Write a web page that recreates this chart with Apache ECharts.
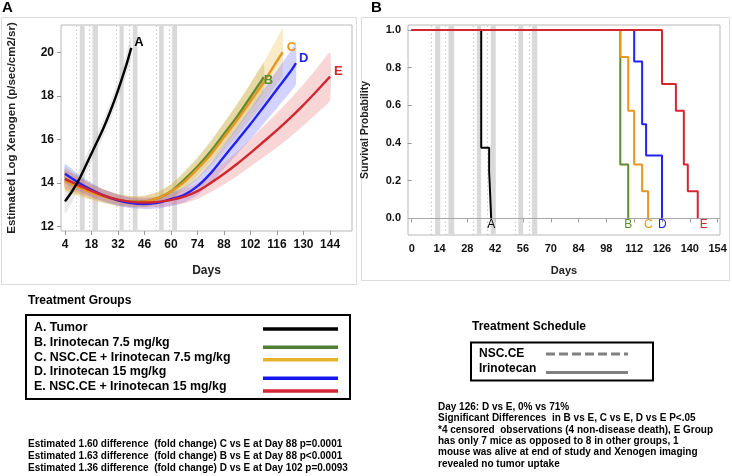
<!DOCTYPE html>
<html><head><meta charset="utf-8">
<script src="https://cdn.jsdelivr.net/npm/echarts@6/dist/echarts.min.js"></script>
<style>html,body{margin:0;padding:0;background:#fff}#c{width:732px;height:476px}</style>
</head><body><div id="c"></div>
<script>
// ---------- Panel A: estimated log Xenogen ----------
const growthXTicks = [4, 18, 32, 46, 60, 74, 88, 102, 116, 130, 144];
const growthYTicks = [12, 14, 16, 18, 20];

const daysA = [4, 8, 12, 16, 20, 24, 28, 32, 36, 39];
const logA  = [13.15, 13.65, 14.25, 14.98, 15.72, 16.45, 17.3, 18.25, 19.3, 20.2];
const ciA   = [0.55, 0.5, 0.45, 0.42, 0.4, 0.4, 0.42, 0.45, 0.5, 0.55];

const daysB = [4, 11, 18, 25, 32, 39, 46, 53, 60, 67, 74, 81, 88, 95, 102, 109];
const logB  = [14.2, 13.88, 13.6, 13.38, 13.22, 13.14, 13.15, 13.3, 13.6, 14.15, 14.75, 15.45, 16.25, 17.05, 17.95, 18.85];
const ciB   = [0.5, 0.42, 0.35, 0.3, 0.27, 0.25, 0.26, 0.28, 0.32, 0.37, 0.42, 0.47, 0.52, 0.56, 0.6, 0.64];

const daysC = [4, 11, 18, 25, 32, 39, 46, 53, 60, 67, 74, 81, 88, 95, 102, 109, 116, 119];
const logC  = [14.1, 13.8, 13.55, 13.35, 13.2, 13.12, 13.14, 13.3, 13.6, 14.05, 14.65, 15.3, 16.1, 16.9, 17.75, 18.62, 19.6, 20.0];
const ciC   = [0.48, 0.4, 0.34, 0.29, 0.26, 0.25, 0.26, 0.29, 0.34, 0.4, 0.47, 0.55, 0.64, 0.73, 0.82, 0.92, 1.02, 1.08];

const daysD = [4, 11, 18, 25, 32, 39, 46, 53, 60, 67, 74, 81, 88, 95, 102, 109, 116, 123, 126];
const logD  = [14.42, 14.02, 13.68, 13.4, 13.2, 13.07, 13.03, 13.08, 13.25, 13.45, 13.85, 14.45, 15.2, 15.95, 16.7, 17.5, 18.3, 19.1, 19.5];
const ciD   = [0.45, 0.38, 0.32, 0.28, 0.25, 0.24, 0.24, 0.26, 0.3, 0.35, 0.41, 0.48, 0.55, 0.62, 0.7, 0.78, 0.86, 0.93, 0.97];

const daysE = [4, 11, 18, 25, 32, 39, 46, 53, 60, 67, 74, 81, 88, 95, 102, 109, 116, 123, 130, 137, 144];
const logE  = [14.17, 13.9, 13.63, 13.4, 13.23, 13.13, 13.1, 13.13, 13.22, 13.37, 13.62, 14.0, 14.42, 14.88, 15.38, 15.9, 16.42, 16.98, 17.58, 18.22, 18.88];
const ciE   = [0.42, 0.36, 0.31, 0.27, 0.24, 0.23, 0.23, 0.24, 0.27, 0.31, 0.36, 0.42, 0.49, 0.56, 0.63, 0.71, 0.79, 0.87, 0.95, 1.03, 1.1];

// ---------- Panel B: survival ----------
const survXTicks = [0, 14, 28, 42, 56, 70, 84, 98, 112, 126, 140, 154];
const survYTicks = [0, 0.2, 0.4, 0.6, 0.8, 1.0];
const survDaysA = [0, 35, 39, 40];            const survA = [1, 0.375, 0.25, 0];
const survDaysB = [0, 105, 109];              const survB = [1, 0.286, 0];
const survDaysC = [0, 105, 109, 112, 116, 119]; const survC = [1, 0.857, 0.571, 0.286, 0.143, 0];
const survDaysD = [0, 112, 116, 118, 126];    const survD = [1, 0.833, 0.5, 0.333, 0];
const survDaysE = [0, 126, 133, 137, 139, 144]; const survE = [1, 0.714, 0.571, 0.286, 0.143, 0];

// ---------- Treatment schedule (days) ----------
const nscDays  = [10, 17, 31, 38, 52, 59];
const iriStart = [11.8, 18.5, 32.8, 39.8, 53.7, 60.6];
const iriEnd   = [14.4, 21.4, 35.0, 42.3, 56.1, 63.2];

const groupNames = ['A. Tumor', 'B. Irinotecan 7.5 mg/kg', 'C. NSC.CE + Irinotecan 7.5 mg/kg', 'D. Irinotecan 15 mg/kg', 'E. NSC.CE + Irinotecan 15 mg/kg'];
const foldNotes = [
  'Estimated 1.60 difference  (fold change) C vs E at Day 88 p=0.0001',
  'Estimated 1.63 difference  (fold change) B vs E at Day 88 p<0.0001',
  'Estimated 1.36 difference  (fold change) D vs E at Day 102 p=0.0093'
];
const survNotes = [
  'Day 126: D vs E, 0% vs 71%',
  'Significant Differences  in B vs E, C vs E, D vs E P<.05',
  '*4 censored  observations (4 non-disease death), E Group',
  'has only 7 mice as opposed to 8 in other groups, 1',
  'mouse was alive at end of study and Xenogen imaging',
  'revealed no tumor uptake'
];

const FONT = '"Liberation Sans", Arial, sans-serif';
const colors = { A: '#000000', B: '#5E8C31', C: '#E8961E', D: '#2222F2', E: '#D32630' };
const legendColors = ['#000000', '#4F7F32', '#E6B42C', '#1616F2', '#D32630'];
const bandColors = { A: 'rgba(190,190,190,0.30)', B: 'rgba(150,150,40,0.28)', C: 'rgba(238,200,110,0.38)', D: 'rgba(110,110,255,0.30)', E: 'rgba(232,120,120,0.30)' };

const pairs = (xs, ys) => xs.map((x, i) => [x, ys[i]]);

function band(key, days, mid, half) {
  return {
    type: 'custom', xAxisIndex: 0, yAxisIndex: 0, silent: true, z: 1,
    data: [[days[0], mid[0]]],
    renderItem: (params, api) => {
      const up = days.map((d, i) => api.coord([d, mid[i] + half[i]]));
      const lo = days.map((d, i) => api.coord([d, mid[i] - half[i]])).reverse();
      return { type: 'polygon', shape: { points: up.concat(lo), smooth: 0.15 }, style: { fill: bandColors[key] } };
    }
  };
}
function curve(key, days, vals, lbl) {
  return {
    type: 'line', xAxisIndex: 0, yAxisIndex: 0, smooth: 0.3, symbol: 'none', z: 3,
    data: pairs(days, vals), lineStyle: { color: colors[key], width: 2.4 },
    endLabel: Object.assign({ show: true, formatter: key, color: colors[key], fontFamily: FONT, fontWeight: 'bold', fontSize: 13 }, lbl)
  };
}
function surv(key, days, vals, lbl) {
  return {
    type: 'line', xAxisIndex: 1, yAxisIndex: 1, step: 'end', symbol: 'none', z: 3,
    data: pairs(days, vals), lineStyle: { color: colors[key], width: 2 },
    endLabel: Object.assign({ show: true, formatter: key, color: colors[key], fontFamily: FONT, fontSize: 12, position: 'right', distance: 0, offset: [-4, 6] }, lbl)
  };
}
function schedule(xi, yi) {
  return {
    type: 'line', xAxisIndex: xi, yAxisIndex: yi, data: [], silent: true,
    markArea: { silent: true, z: 1, itemStyle: { color: '#d9d9d9' }, data: iriStart.map((s, i) => [{ xAxis: s }, { xAxis: iriEnd[i] }]) },
    markLine: { silent: true, z: 1, symbol: 'none', label: { show: false }, lineStyle: { color: '#cdcdcd', type: [1.5, 2.5], width: 1.2 }, data: nscDays.map(d => ({ xAxis: d })) }
  };
}

const axisLabelA = { color: '#111', fontFamily: FONT, fontWeight: 'bold', fontSize: 12 };
const axisLabelB = { color: '#111', fontFamily: FONT, fontWeight: 'bold', fontSize: 11 };
const tick = { show: true, length: 4, lineStyle: { color: '#999' } };

const graphics = [];
function txt(t, x, y, font) {
  graphics.push({ type: 'text', silent: true, style: { text: t, x, y, font, fill: '#000', textVerticalAlign: 'middle', verticalAlign: 'middle' } });
}
function rect(x, y, w, h, stroke, lw) {
  graphics.push({ type: 'rect', silent: true, shape: { x, y, width: w, height: h }, style: { fill: 'none', stroke, lineWidth: lw } });
}
function hline(x1, x2, y, stroke, lw, dash) {
  graphics.push({ type: 'line', silent: true, shape: { x1, y1: y, x2, y2: y }, style: { stroke, lineWidth: lw, lineDash: dash || null } });
}
// panel frames and labels
rect(1.5, 17.5, 355, 267, '#dcdcdc', 1);
rect(361.5, 17.5, 368, 263, '#dcdcdc', 1);
txt('A', 2, 8, 'bold 15px ' + FONT);
txt('B', 371, 8, 'bold 15px ' + FONT);
// treatment groups legend
txt('Treatment Groups', 28, 301, 'bold 12px ' + FONT);
rect(26, 315, 324, 84, '#000', 2);
groupNames.forEach((n, i) => txt(n, 34, 327.5 + i * 14.8, 'bold 12.4px ' + FONT));
[329, 347.3, 359.7, 378.3, 391].forEach((y, i) => hline(263, 338, y, legendColors[i], 3.5));
foldNotes.forEach((n, i) => txt(n, 28, 444 + i * 12.3, 'bold 10px ' + FONT));
// treatment schedule legend
txt('Treatment Schedule', 472, 327, 'bold 12px ' + FONT);
rect(471, 342.5, 182, 38, '#000', 2);
txt('NSC.CE', 479, 353.5, 'bold 12px ' + FONT);
txt('Irinotecan', 479, 368.5, 'bold 12px ' + FONT);
hline(546, 628, 354, '#808080', 3, [9, 4]);
hline(546, 628, 372.5, '#808080', 3);
survNotes.forEach((n, i) => txt(n, 438, 407.3 + i * 11.35, 'bold 10px ' + FONT));

const chart = echarts.init(document.getElementById('c'));
chart.setOption({
  animation: false,
  backgroundColor: '#fff',
  grid: [
    { left: 61, top: 25, width: 291, height: 206, show: true, borderColor: '#b8b8b8', borderWidth: 1, backgroundColor: '#fff' },
    { left: 408, top: 25, width: 312, height: 210, show: true, borderColor: '#b8b8b8', borderWidth: 1, backgroundColor: '#fff' }
  ],
  xAxis: [
    { type: 'value', gridIndex: 0, min: 1.89, max: 155.6, axisLine: { show: false }, splitLine: { show: false },
      axisTick: Object.assign({ customValues: growthXTicks }, tick), axisLabel: Object.assign({ customValues: growthXTicks, margin: 8 }, axisLabelA),
      name: 'Days', nameLocation: 'middle', nameGap: 34, nameTextStyle: { fontFamily: FONT, fontWeight: 'bold', fontSize: 12, color: '#222' } },
    { type: 'value', gridIndex: 1, min: -1.86, max: 155.2, axisLine: { show: false }, splitLine: { show: false },
      axisTick: Object.assign({ customValues: survXTicks }, tick), axisLabel: Object.assign({ customValues: survXTicks, margin: 8 }, axisLabelB),
      name: 'Days', nameLocation: 'middle', nameGap: 30, nameTextStyle: { fontFamily: FONT, fontWeight: 'bold', fontSize: 11, color: '#222' } }
  ],
  yAxis: [
    { type: 'value', gridIndex: 0, min: 11.79, max: 21.25, axisLine: { show: false }, splitLine: { show: false },
      axisTick: Object.assign({ customValues: growthYTicks }, tick), axisLabel: Object.assign({ customValues: growthYTicks, margin: 7 }, axisLabelA),
      name: 'Estimated Log Xenogen (p/sec/cm2/sr)', nameLocation: 'middle', nameGap: 43, nameTextStyle: { fontFamily: FONT, fontWeight: 'bold', fontSize: 11.5, color: '#222' } },
    { type: 'value', gridIndex: 1, min: -0.089, max: 1.027, axisLine: { show: false }, splitLine: { show: false },
      axisTick: Object.assign({ customValues: survYTicks }, tick),
      axisLabel: Object.assign({ customValues: survYTicks, margin: 7, formatter: v => v.toFixed(1) }, axisLabelB),
      name: 'Survival Probability', nameLocation: 'middle', nameGap: 37, nameTextStyle: { fontFamily: FONT, fontWeight: 'bold', fontSize: 10.5, color: '#222' } }
  ],
  series: [
    schedule(0, 0),
    band('A', daysA, logA, ciA),
    band('B', daysB, logB, ciB),
    band('C', daysC, logC, ciC),
    band('D', daysD, logD, ciD),
    band('E', daysE, logE, ciE),
    curve('B', daysB, logB, { distance: 0, offset: [0, 3] }),
    curve('C', daysC, logC, { distance: 4, offset: [0, -5] }),
    curve('D', daysD, logD, { distance: 3, offset: [0, -5] }),
    curve('E', daysE, logE, { distance: 4, offset: [0, -5] }),
    curve('A', daysA, logA, { distance: 3, offset: [0, -5] }),
    schedule(1, 1),
    { type: 'line', xAxisIndex: 1, yAxisIndex: 1, data: [], silent: true,
      markLine: { silent: true, z: 2, symbol: 'none', label: { show: false }, lineStyle: { color: '#a8a8a8', type: 'solid', width: 1 }, data: [{ yAxis: 0 }] } },
    surv('A', survDaysA, survA, {}),
    surv('B', survDaysB, survB, {}),
    surv('C', survDaysC, survC, {}),
    surv('D', survDaysD, survD, {}),
    surv('E', survDaysE, survE, { offset: [2, 6] })
  ],
  graphic: graphics
});
</script></body></html>
